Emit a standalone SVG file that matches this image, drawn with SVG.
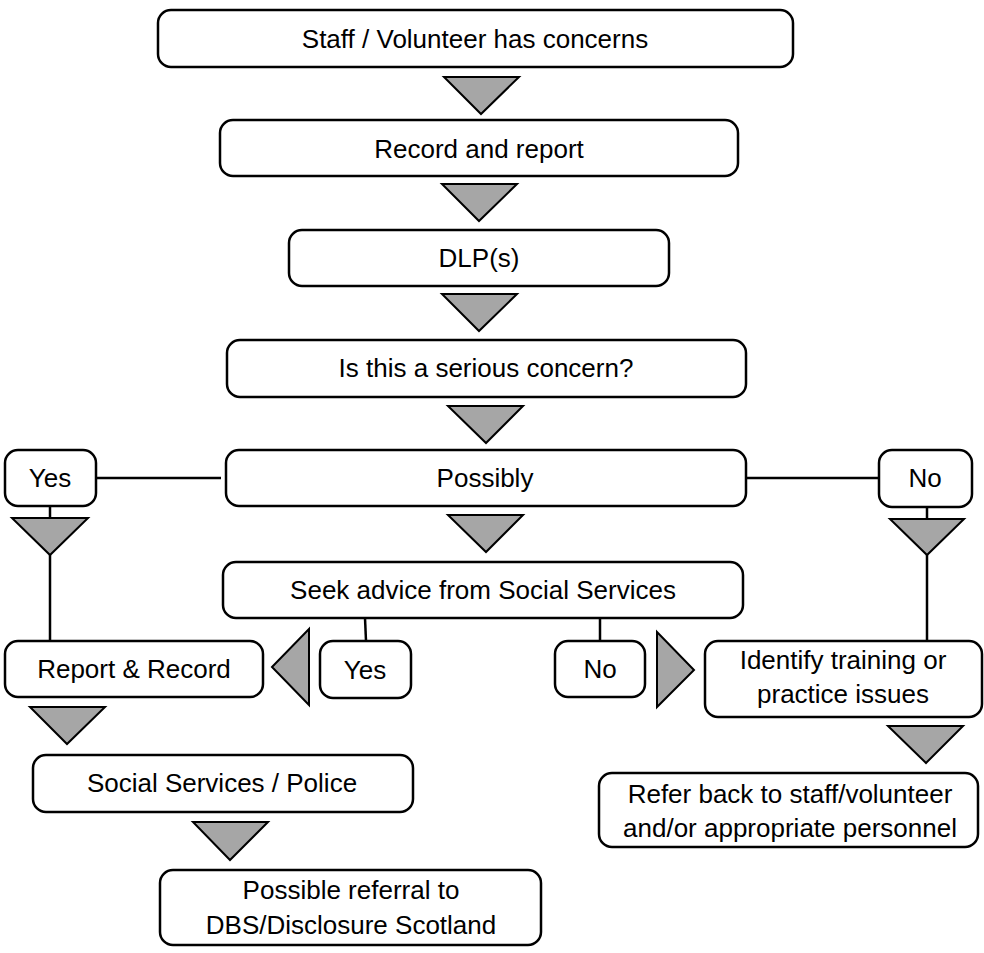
<svg xmlns="http://www.w3.org/2000/svg" width="984" height="953" viewBox="0 0 984 953">
<style>
.box{fill:#fff;stroke:#000;stroke-width:2.5}
.tri{fill:#a6a6a6;stroke:#000;stroke-width:2;stroke-linejoin:miter}
.ln{stroke:#000;stroke-width:2.5;fill:none}
text{font-family:"Liberation Sans",Arial,Helvetica,sans-serif;font-size:26px;fill:#000;text-anchor:middle}
</style>
<rect width="984" height="953" fill="#fff"/>
<g id="connectors">
<line class="ln" x1="96" y1="478" x2="221" y2="478"/>
<line class="ln" x1="746" y1="478" x2="879" y2="478"/>
<line class="ln" x1="50" y1="506" x2="50" y2="518"/>
<line class="ln" x1="50" y1="555" x2="50" y2="641"/>
<line class="ln" x1="927" y1="507" x2="927" y2="519"/>
<line class="ln" x1="927" y1="555" x2="927" y2="641"/>
<line class="ln" x1="365" y1="618" x2="366" y2="641"/>
<line class="ln" x1="600" y1="618" x2="600" y2="641"/>
<polygon class="tri" points="444,77 519,77 481,114"/>
<polygon class="tri" points="442,184 517,184 479,221"/>
<polygon class="tri" points="442,294 517,294 479,331"/>
<polygon class="tri" points="448,406 523,406 486,443"/>
<polygon class="tri" points="448,515 523,515 486,552"/>
<polygon class="tri" points="12,518 88,518 50,555"/>
<polygon class="tri" points="890,519 964,519 927,555"/>
<polygon class="tri" points="272,667 309,629 309,705"/>
<polygon class="tri" points="657,632 657,707 694,670"/>
<polygon class="tri" points="30,707 105,707 67,744"/>
<polygon class="tri" points="193,822 268,822 230,860"/>
<polygon class="tri" points="888,726 963,726 926,763"/>
</g>
<g id="staff"><rect class="box" x="158" y="10" width="635" height="57" rx="13"/><text x="475" y="48">Staff / Volunteer has concerns</text></g>
<g id="record"><rect class="box" x="220" y="120" width="518" height="56" rx="13"/><text x="479" y="158">Record and report</text></g>
<g id="dlp"><rect class="box" x="289" y="230" width="380" height="56" rx="13"/><text x="479" y="267">DLP(s)</text></g>
<g id="serious"><rect class="box" x="227" y="340" width="519" height="57" rx="13"/><text x="486" y="377">Is this a serious concern?</text></g>
<g id="possibly"><rect class="box" x="226" y="450" width="520" height="56" rx="13"/><text x="485" y="487">Possibly</text></g>
<g id="yes1"><rect class="box" x="5" y="450" width="91" height="56" rx="13"/><text x="50" y="487">Yes</text></g>
<g id="no1"><rect class="box" x="879" y="450" width="93" height="57" rx="13"/><text x="925" y="487">No</text></g>
<g id="seek"><rect class="box" x="223" y="562" width="520" height="56" rx="13"/><text x="483" y="599">Seek advice from Social Services</text></g>
<g id="report"><rect class="box" x="5" y="641" width="258" height="56" rx="13"/><text x="134" y="678">Report &amp; Record</text></g>
<g id="yes2"><rect class="box" x="320" y="641" width="91" height="57" rx="13"/><text x="365" y="679">Yes</text></g>
<g id="no2"><rect class="box" x="555" y="641" width="90" height="56" rx="13"/><text x="600" y="678">No</text></g>
<g id="identify"><rect class="box" x="705" y="641" width="277" height="76" rx="13"/><text x="843" y="669">Identify training or</text><text x="843" y="703">practice issues</text></g>
<g id="police"><rect class="box" x="33" y="755" width="380" height="57" rx="13"/><text x="222" y="792">Social Services / Police</text></g>
<g id="referral"><rect class="box" x="160" y="870" width="381" height="75" rx="13"/><text x="351" y="899">Possible referral to</text><text x="351" y="934">DBS/Disclosure Scotland</text></g>
<g id="referback"><rect class="box" x="599" y="773" width="379" height="74" rx="13"/><text x="790" y="803">Refer back to staff/volunteer</text><text x="790" y="837">and/or appropriate personnel</text></g>
</svg>
